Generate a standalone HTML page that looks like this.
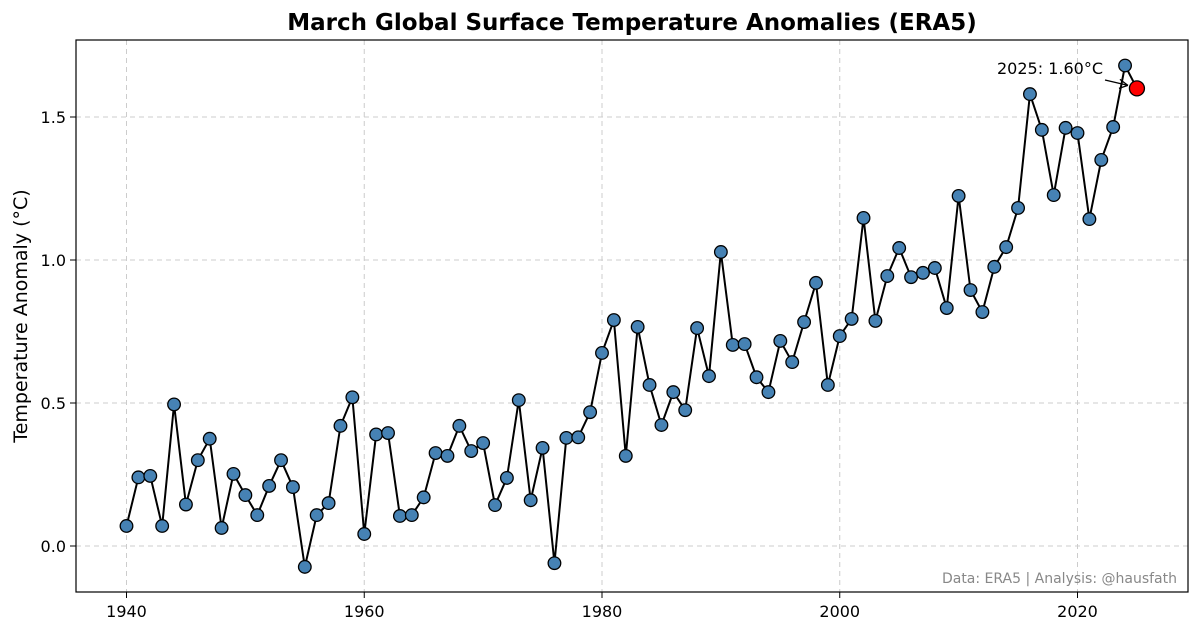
<!DOCTYPE html>
<html><head><meta charset="utf-8"><style>
html,body{margin:0;padding:0;background:#fff;}
svg{display:block;font-family:"DejaVu Sans","Liberation Sans",sans-serif;}
</style></head><body>
<svg id="chart" width="1200" height="632" viewBox="0 0 1200 632" xmlns="http://www.w3.org/2000/svg"></svg>
<script>
const years = [];
for (let y = 1940; y <= 2025; y++) years.push(y);
const anomalies = [0.07,0.24,0.245,0.07,0.495,0.145,0.30,0.375,0.063,0.252,0.178,0.108,0.21,0.30,0.206,-0.073,0.108,0.15,0.42,0.52,0.042,0.39,0.395,0.105,0.108,0.17,0.325,0.315,0.42,0.332,0.36,0.143,0.238,0.51,0.16,0.343,-0.06,0.378,0.38,0.468,0.675,0.79,0.315,0.766,0.563,0.423,0.538,0.475,0.762,0.594,1.028,0.703,0.706,0.59,0.538,0.717,0.643,0.783,0.92,0.563,0.734,0.794,1.147,0.787,0.944,1.042,0.94,0.955,0.972,0.832,1.224,0.895,0.818,0.976,1.045,1.182,1.58,1.455,1.227,1.462,1.444,1.143,1.35,1.465,1.68,1.60];
const xTicks = [1940,1960,1980,2000,2020];
const yTicks = [0.0,0.5,1.0,1.5];
const yTickLabels = ["0.0","0.5","1.0","1.5"];

const svg = document.getElementById('chart');
const NS = 'http://www.w3.org/2000/svg';
const L=76, R=1188, T=40, B=592;
function xs(y){ return 126.5 + (y-1940)*(1077.5-126.5)/80; }
function ys(v){ return 546 - v*286; }
function mk(tag, attrs, parent){ const e=document.createElementNS(NS,tag); for(const k in attrs) e.setAttribute(k,attrs[k]); (parent||svg).appendChild(e); return e; }

xTicks.forEach(t=>{
  const g=mk('line',{x1:xs(t),x2:xs(t),y1:T,y2:B,stroke:'#ccc','stroke-dasharray':'5,4','stroke-width':1});
  
  
});
yTicks.forEach(t=>{
  const g=mk('line',{x1:L,x2:R,y1:ys(t),y2:ys(t),stroke:'#ccc','stroke-dasharray':'5,4','stroke-width':1});
  
  
});
const fr=mk('rect',{x:L,y:T,width:R-L,height:B-T,fill:'none',stroke:'#000','stroke-width':1.2});


xTicks.forEach(t=>{
  mk('line',{x1:xs(t),x2:xs(t),y1:B,y2:B+6,stroke:'#000'});
  const tx=mk('text',{x:xs(t),y:B+25,'text-anchor':'middle','font-size':16});
  tx.textContent=t;
  
  
});
yTicks.forEach((t,i)=>{
  mk('line',{x1:L-6,x2:L,y1:ys(t),y2:ys(t),stroke:'#000'});
  const tx=mk('text',{x:L-10,y:ys(t)+6,'text-anchor':'end','font-size':16});
  tx.textContent=yTickLabels[i];
  
  
});
const title=mk('text',{x:632,y:30,'text-anchor':'middle','font-size':23,'font-weight':'bold'});
title.textContent='March Global Surface Temperature Anomalies (ERA5)';


const yt=mk('text',{x:27,y:316,'text-anchor':'middle','font-size':19,transform:'rotate(-90 27 316)'});
yt.textContent='Temperature Anomaly (°C)';


const src=mk('text',{x:1177,y:583,'text-anchor':'end','font-size':14,fill:'#888'});
src.textContent='Data: ERA5 | Analysis: @hausfath';


const pl=mk('polyline',{points:years.map((y,i)=>xs(y)+','+ys(anomalies[i])).join(' '),fill:'none',stroke:'#000','stroke-width':2});


years.forEach((y,i)=>{
  const last = i===years.length-1;
  const c=mk('circle',{cx:xs(y),cy:ys(anomalies[i]),r:last?7.5:6.3,fill:last?'#ff0000':'#4682b4',stroke:'#000','stroke-width':1.3});
  
  
});
const lx=xs(2025), ly=ys(anomalies[anomalies.length-1]);
mk('line',{x1:1105,x2:lx-9,y1:80,y2:ly-3,stroke:'#000','stroke-width':1.3});
mk('path',{d:`M${lx-9},${ly-3} l-8,-6 M${lx-9},${ly-3} l-9,3`,stroke:'#000','stroke-width':1.3,fill:'none'});
const an=mk('text',{x:1103,y:74,'text-anchor':'end','font-size':16});
an.textContent='2025: '+anomalies[anomalies.length-1].toFixed(2)+'°C';


</script>
</body></html>
